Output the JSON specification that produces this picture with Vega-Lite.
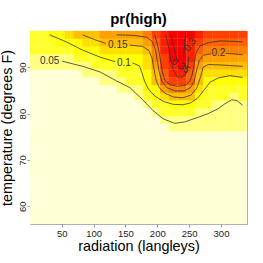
{
"$schema":"https://vega.github.io/schema/vega-lite/v6.json",
"width":217,"height":193,
"autosize":{"type":"none"},
"padding":{"left":30,"top":31,"right":16,"bottom":39},
"background":"white",
"config":{"view":{"stroke":"#a8a8a8","strokeWidth":1},"font":"Liberation Sans"},
"title":{"text":"pr(high)","fontSize":15,"fontWeight":"bold","font":"Liberation Sans","color":"black","baseline":"alphabetic","offset":-8,"frame":"group","anchor":"middle"},
"datasets":{
"cells":[
{"x":7,"y":57,"z":0},{"x":7,"y":58.67,"z":0},{"x":7,"y":60.33,"z":0},{"x":7,"y":62,"z":0},{"x":7,"y":63.67,"z":0},{"x":7,"y":65.33,"z":0},{"x":7,"y":67,"z":0},{"x":7,"y":68.67,"z":0},{"x":7,"y":70.33,"z":0},{"x":7,"y":72,"z":0},{"x":7,"y":73.67,"z":0},{"x":7,"y":75.33,"z":0},{"x":7,"y":77,"z":0},{"x":7,"y":78.67,"z":0},{"x":7,"y":80.33,"z":0},{"x":7,"y":82,"z":0},{"x":7,"y":83.67,"z":0},{"x":7,"y":85.33,"z":0.006},{"x":7,"y":87,"z":0.012},{"x":7,"y":88.67,"z":0.022},{"x":7,"y":90.33,"z":0.038},{"x":7,"y":92,"z":0.053},{"x":7,"y":93.67,"z":0.065},{"x":7,"y":95.33,"z":0.075},{"x":7,"y":97,"z":0.085},
{"x":20.63,"y":57,"z":0},{"x":20.63,"y":58.67,"z":0},{"x":20.63,"y":60.33,"z":0},{"x":20.63,"y":62,"z":0},{"x":20.63,"y":63.67,"z":0},{"x":20.63,"y":65.33,"z":0},{"x":20.63,"y":67,"z":0},{"x":20.63,"y":68.67,"z":0},{"x":20.63,"y":70.33,"z":0},{"x":20.63,"y":72,"z":0},{"x":20.63,"y":73.67,"z":0},{"x":20.63,"y":75.33,"z":0},{"x":20.63,"y":77,"z":0},{"x":20.63,"y":78.67,"z":0},{"x":20.63,"y":80.33,"z":0},{"x":20.63,"y":82,"z":0},{"x":20.63,"y":83.67,"z":0},{"x":20.63,"y":85.33,"z":0.006},{"x":20.63,"y":87,"z":0.012},{"x":20.63,"y":88.67,"z":0.023},{"x":20.63,"y":90.33,"z":0.039},{"x":20.63,"y":92,"z":0.054},{"x":20.63,"y":93.67,"z":0.068},{"x":20.63,"y":95.33,"z":0.08},{"x":20.63,"y":97,"z":0.092},
{"x":34.25,"y":57,"z":0},{"x":34.25,"y":58.67,"z":0},{"x":34.25,"y":60.33,"z":0},{"x":34.25,"y":62,"z":0},{"x":34.25,"y":63.67,"z":0},{"x":34.25,"y":65.33,"z":0},{"x":34.25,"y":67,"z":0},{"x":34.25,"y":68.67,"z":0},{"x":34.25,"y":70.33,"z":0},{"x":34.25,"y":72,"z":0},{"x":34.25,"y":73.67,"z":0},{"x":34.25,"y":75.33,"z":0},{"x":34.25,"y":77,"z":0},{"x":34.25,"y":78.67,"z":0},{"x":34.25,"y":80.33,"z":0},{"x":34.25,"y":82,"z":0},{"x":34.25,"y":83.67,"z":0},{"x":34.25,"y":85.33,"z":0.006},{"x":34.25,"y":87,"z":0.012},{"x":34.25,"y":88.67,"z":0.023},{"x":34.25,"y":90.33,"z":0.04},{"x":34.25,"y":92,"z":0.056},{"x":34.25,"y":93.67,"z":0.072},{"x":34.25,"y":95.33,"z":0.087},{"x":34.25,"y":97,"z":0.101},
{"x":47.88,"y":57,"z":0},{"x":47.88,"y":58.67,"z":0},{"x":47.88,"y":60.33,"z":0},{"x":47.88,"y":62,"z":0},{"x":47.88,"y":63.67,"z":0},{"x":47.88,"y":65.33,"z":0},{"x":47.88,"y":67,"z":0},{"x":47.88,"y":68.67,"z":0},{"x":47.88,"y":70.33,"z":0},{"x":47.88,"y":72,"z":0},{"x":47.88,"y":73.67,"z":0},{"x":47.88,"y":75.33,"z":0},{"x":47.88,"y":77,"z":0},{"x":47.88,"y":78.67,"z":0},{"x":47.88,"y":80.33,"z":0},{"x":47.88,"y":82,"z":0},{"x":47.88,"y":83.67,"z":0},{"x":47.88,"y":85.33,"z":0.006},{"x":47.88,"y":87,"z":0.013},{"x":47.88,"y":88.67,"z":0.024},{"x":47.88,"y":90.33,"z":0.041},{"x":47.88,"y":92,"z":0.058},{"x":47.88,"y":93.67,"z":0.077},{"x":47.88,"y":95.33,"z":0.095},{"x":47.88,"y":97,"z":0.11},
{"x":61.5,"y":57,"z":0},{"x":61.5,"y":58.67,"z":0},{"x":61.5,"y":60.33,"z":0},{"x":61.5,"y":62,"z":0},{"x":61.5,"y":63.67,"z":0},{"x":61.5,"y":65.33,"z":0},{"x":61.5,"y":67,"z":0},{"x":61.5,"y":68.67,"z":0},{"x":61.5,"y":70.33,"z":0},{"x":61.5,"y":72,"z":0},{"x":61.5,"y":73.67,"z":0},{"x":61.5,"y":75.33,"z":0},{"x":61.5,"y":77,"z":0},{"x":61.5,"y":78.67,"z":0},{"x":61.5,"y":80.33,"z":0},{"x":61.5,"y":82,"z":0},{"x":61.5,"y":83.67,"z":0},{"x":61.5,"y":85.33,"z":0.007},{"x":61.5,"y":87,"z":0.014},{"x":61.5,"y":88.67,"z":0.026},{"x":61.5,"y":90.33,"z":0.043},{"x":61.5,"y":92,"z":0.061},{"x":61.5,"y":93.67,"z":0.082},{"x":61.5,"y":95.33,"z":0.101},{"x":61.5,"y":97,"z":0.132},
{"x":75.13,"y":57,"z":0},{"x":75.13,"y":58.67,"z":0},{"x":75.13,"y":60.33,"z":0},{"x":75.13,"y":62,"z":0},{"x":75.13,"y":63.67,"z":0},{"x":75.13,"y":65.33,"z":0},{"x":75.13,"y":67,"z":0},{"x":75.13,"y":68.67,"z":0},{"x":75.13,"y":70.33,"z":0},{"x":75.13,"y":72,"z":0},{"x":75.13,"y":73.67,"z":0},{"x":75.13,"y":75.33,"z":0},{"x":75.13,"y":77,"z":0},{"x":75.13,"y":78.67,"z":0},{"x":75.13,"y":80.33,"z":0},{"x":75.13,"y":82,"z":0},{"x":75.13,"y":83.67,"z":0},{"x":75.13,"y":85.33,"z":0.008},{"x":75.13,"y":87,"z":0.015},{"x":75.13,"y":88.67,"z":0.028},{"x":75.13,"y":90.33,"z":0.048},{"x":75.13,"y":92,"z":0.07},{"x":75.13,"y":93.67,"z":0.093},{"x":75.13,"y":95.33,"z":0.12},{"x":75.13,"y":97,"z":0.16},
{"x":88.75,"y":57,"z":0},{"x":88.75,"y":58.67,"z":0},{"x":88.75,"y":60.33,"z":0},{"x":88.75,"y":62,"z":0},{"x":88.75,"y":63.67,"z":0},{"x":88.75,"y":65.33,"z":0},{"x":88.75,"y":67,"z":0},{"x":88.75,"y":68.67,"z":0},{"x":88.75,"y":70.33,"z":0},{"x":88.75,"y":72,"z":0},{"x":88.75,"y":73.67,"z":0},{"x":88.75,"y":75.33,"z":0},{"x":88.75,"y":77,"z":0},{"x":88.75,"y":78.67,"z":0},{"x":88.75,"y":80.33,"z":0},{"x":88.75,"y":82,"z":0},{"x":88.75,"y":83.67,"z":0},{"x":88.75,"y":85.33,"z":0.01},{"x":88.75,"y":87,"z":0.02},{"x":88.75,"y":88.67,"z":0.035},{"x":88.75,"y":90.33,"z":0.055},{"x":88.75,"y":92,"z":0.079},{"x":88.75,"y":93.67,"z":0.104},{"x":88.75,"y":95.33,"z":0.132},{"x":88.75,"y":97,"z":0.17},
{"x":102.38,"y":57,"z":0},{"x":102.38,"y":58.67,"z":0},{"x":102.38,"y":60.33,"z":0},{"x":102.38,"y":62,"z":0},{"x":102.38,"y":63.67,"z":0},{"x":102.38,"y":65.33,"z":0},{"x":102.38,"y":67,"z":0},{"x":102.38,"y":68.67,"z":0},{"x":102.38,"y":70.33,"z":0},{"x":102.38,"y":72,"z":0},{"x":102.38,"y":73.67,"z":0},{"x":102.38,"y":75.33,"z":0},{"x":102.38,"y":77,"z":0},{"x":102.38,"y":78.67,"z":0},{"x":102.38,"y":80.33,"z":0},{"x":102.38,"y":82,"z":0},{"x":102.38,"y":83.67,"z":0.006},{"x":102.38,"y":85.33,"z":0.013},{"x":102.38,"y":87,"z":0.025},{"x":102.38,"y":88.67,"z":0.043},{"x":102.38,"y":90.33,"z":0.065},{"x":102.38,"y":92,"z":0.091},{"x":102.38,"y":93.67,"z":0.116},{"x":102.38,"y":95.33,"z":0.145},{"x":102.38,"y":97,"z":0.18},
{"x":116,"y":57,"z":0},{"x":116,"y":58.67,"z":0},{"x":116,"y":60.33,"z":0},{"x":116,"y":62,"z":0},{"x":116,"y":63.67,"z":0},{"x":116,"y":65.33,"z":0},{"x":116,"y":67,"z":0},{"x":116,"y":68.67,"z":0},{"x":116,"y":70.33,"z":0},{"x":116,"y":72,"z":0},{"x":116,"y":73.67,"z":0},{"x":116,"y":75.33,"z":0},{"x":116,"y":77,"z":0},{"x":116,"y":78.67,"z":0},{"x":116,"y":80.33,"z":0},{"x":116,"y":82,"z":0},{"x":116,"y":83.67,"z":0.009},{"x":116,"y":85.33,"z":0.018},{"x":116,"y":87,"z":0.033},{"x":116,"y":88.67,"z":0.051},{"x":116,"y":90.33,"z":0.076},{"x":116,"y":92,"z":0.101},{"x":116,"y":93.67,"z":0.126},{"x":116,"y":95.33,"z":0.16},{"x":116,"y":97,"z":0.19},
{"x":129.63,"y":57,"z":0},{"x":129.63,"y":58.67,"z":0},{"x":129.63,"y":60.33,"z":0},{"x":129.63,"y":62,"z":0},{"x":129.63,"y":63.67,"z":0},{"x":129.63,"y":65.33,"z":0},{"x":129.63,"y":67,"z":0},{"x":129.63,"y":68.67,"z":0},{"x":129.63,"y":70.33,"z":0},{"x":129.63,"y":72,"z":0},{"x":129.63,"y":73.67,"z":0},{"x":129.63,"y":75.33,"z":0},{"x":129.63,"y":77,"z":0},{"x":129.63,"y":78.67,"z":0},{"x":129.63,"y":80.33,"z":0},{"x":129.63,"y":82,"z":0},{"x":129.63,"y":83.67,"z":0.011},{"x":129.63,"y":85.33,"z":0.022},{"x":129.63,"y":87,"z":0.04},{"x":129.63,"y":88.67,"z":0.061},{"x":129.63,"y":90.33,"z":0.086},{"x":129.63,"y":92,"z":0.109},{"x":129.63,"y":93.67,"z":0.132},{"x":129.63,"y":95.33,"z":0.165},{"x":129.63,"y":97,"z":0.195},
{"x":143.25,"y":57,"z":0},{"x":143.25,"y":58.67,"z":0},{"x":143.25,"y":60.33,"z":0},{"x":143.25,"y":62,"z":0},{"x":143.25,"y":63.67,"z":0},{"x":143.25,"y":65.33,"z":0},{"x":143.25,"y":67,"z":0},{"x":143.25,"y":68.67,"z":0},{"x":143.25,"y":70.33,"z":0},{"x":143.25,"y":72,"z":0},{"x":143.25,"y":73.67,"z":0},{"x":143.25,"y":75.33,"z":0},{"x":143.25,"y":77,"z":0},{"x":143.25,"y":78.67,"z":0},{"x":143.25,"y":80.33,"z":0},{"x":143.25,"y":82,"z":0.01},{"x":143.25,"y":83.67,"z":0.02},{"x":143.25,"y":85.33,"z":0.036},{"x":143.25,"y":87,"z":0.053},{"x":143.25,"y":88.67,"z":0.073},{"x":143.25,"y":90.33,"z":0.092},{"x":143.25,"y":92,"z":0.113},{"x":143.25,"y":93.67,"z":0.135},{"x":143.25,"y":95.33,"z":0.168},{"x":143.25,"y":97,"z":0.205},
{"x":156.88,"y":57,"z":0},{"x":156.88,"y":58.67,"z":0},{"x":156.88,"y":60.33,"z":0},{"x":156.88,"y":62,"z":0},{"x":156.88,"y":63.67,"z":0},{"x":156.88,"y":65.33,"z":0},{"x":156.88,"y":67,"z":0},{"x":156.88,"y":68.67,"z":0},{"x":156.88,"y":70.33,"z":0},{"x":156.88,"y":72,"z":0},{"x":156.88,"y":73.67,"z":0},{"x":156.88,"y":75.33,"z":0},{"x":156.88,"y":77,"z":0},{"x":156.88,"y":78.67,"z":0},{"x":156.88,"y":80.33,"z":0.007},{"x":156.88,"y":82,"z":0.015},{"x":156.88,"y":83.67,"z":0.03},{"x":156.88,"y":85.33,"z":0.048},{"x":156.88,"y":87,"z":0.063},{"x":156.88,"y":88.67,"z":0.079},{"x":156.88,"y":90.33,"z":0.094},{"x":156.88,"y":92,"z":0.114},{"x":156.88,"y":93.67,"z":0.135},{"x":156.88,"y":95.33,"z":0.168},{"x":156.88,"y":97,"z":0.208},
{"x":170.5,"y":57,"z":0},{"x":170.5,"y":58.67,"z":0},{"x":170.5,"y":60.33,"z":0},{"x":170.5,"y":62,"z":0},{"x":170.5,"y":63.67,"z":0},{"x":170.5,"y":65.33,"z":0},{"x":170.5,"y":67,"z":0},{"x":170.5,"y":68.67,"z":0},{"x":170.5,"y":70.33,"z":0},{"x":170.5,"y":72,"z":0},{"x":170.5,"y":73.67,"z":0},{"x":170.5,"y":75.33,"z":0},{"x":170.5,"y":77,"z":0},{"x":170.5,"y":78.67,"z":0.007},{"x":170.5,"y":80.33,"z":0.014},{"x":170.5,"y":82,"z":0.028},{"x":170.5,"y":83.67,"z":0.045},{"x":170.5,"y":85.33,"z":0.059},{"x":170.5,"y":87,"z":0.073},{"x":170.5,"y":88.67,"z":0.086},{"x":170.5,"y":90.33,"z":0.099},{"x":170.5,"y":92,"z":0.119},{"x":170.5,"y":93.67,"z":0.139},{"x":170.5,"y":95.33,"z":0.172},{"x":170.5,"y":97,"z":0.212},
{"x":184.13,"y":57,"z":0},{"x":184.13,"y":58.67,"z":0},{"x":184.13,"y":60.33,"z":0},{"x":184.13,"y":62,"z":0},{"x":184.13,"y":63.67,"z":0},{"x":184.13,"y":65.33,"z":0},{"x":184.13,"y":67,"z":0},{"x":184.13,"y":68.67,"z":0},{"x":184.13,"y":70.33,"z":0},{"x":184.13,"y":72,"z":0},{"x":184.13,"y":73.67,"z":0},{"x":184.13,"y":75.33,"z":0},{"x":184.13,"y":77,"z":0.008},{"x":184.13,"y":78.67,"z":0.015},{"x":184.13,"y":80.33,"z":0.028},{"x":184.13,"y":82,"z":0.045},{"x":184.13,"y":83.67,"z":0.074},{"x":184.13,"y":85.33,"z":0.093},{"x":184.13,"y":87,"z":0.107},{"x":184.13,"y":88.67,"z":0.118},{"x":184.13,"y":90.33,"z":0.135},{"x":184.13,"y":92,"z":0.15},{"x":184.13,"y":93.67,"z":0.17},{"x":184.13,"y":95.33,"z":0.2},{"x":184.13,"y":97,"z":0.23},
{"x":197.75,"y":57,"z":0},{"x":197.75,"y":58.67,"z":0},{"x":197.75,"y":60.33,"z":0},{"x":197.75,"y":62,"z":0},{"x":197.75,"y":63.67,"z":0},{"x":197.75,"y":65.33,"z":0},{"x":197.75,"y":67,"z":0},{"x":197.75,"y":68.67,"z":0},{"x":197.75,"y":70.33,"z":0},{"x":197.75,"y":72,"z":0},{"x":197.75,"y":73.67,"z":0},{"x":197.75,"y":75.33,"z":0.008},{"x":197.75,"y":77,"z":0.016},{"x":197.75,"y":78.67,"z":0.028},{"x":197.75,"y":80.33,"z":0.045},{"x":197.75,"y":82,"z":0.071},{"x":197.75,"y":83.67,"z":0.1},{"x":197.75,"y":85.33,"z":0.122},{"x":197.75,"y":87,"z":0.155},{"x":197.75,"y":88.67,"z":0.18},{"x":197.75,"y":90.33,"z":0.2},{"x":197.75,"y":92,"z":0.22},{"x":197.75,"y":93.67,"z":0.245},{"x":197.75,"y":95.33,"z":0.27},{"x":197.75,"y":97,"z":0.29},
{"x":211.38,"y":57,"z":0},{"x":211.38,"y":58.67,"z":0},{"x":211.38,"y":60.33,"z":0},{"x":211.38,"y":62,"z":0},{"x":211.38,"y":63.67,"z":0},{"x":211.38,"y":65.33,"z":0},{"x":211.38,"y":67,"z":0},{"x":211.38,"y":68.67,"z":0},{"x":211.38,"y":70.33,"z":0},{"x":211.38,"y":72,"z":0},{"x":211.38,"y":73.67,"z":0.009},{"x":211.38,"y":75.33,"z":0.018},{"x":211.38,"y":77,"z":0.03},{"x":211.38,"y":78.67,"z":0.045},{"x":211.38,"y":80.33,"z":0.068},{"x":211.38,"y":82,"z":0.092},{"x":211.38,"y":83.67,"z":0.14},{"x":211.38,"y":85.33,"z":0.2},{"x":211.38,"y":87,"z":0.25},{"x":211.38,"y":88.67,"z":0.275},{"x":211.38,"y":90.33,"z":0.29},{"x":211.38,"y":92,"z":0.3},{"x":211.38,"y":93.67,"z":0.31},{"x":211.38,"y":95.33,"z":0.315},{"x":211.38,"y":97,"z":0.32},
{"x":225,"y":57,"z":0},{"x":225,"y":58.67,"z":0},{"x":225,"y":60.33,"z":0},{"x":225,"y":62,"z":0},{"x":225,"y":63.67,"z":0},{"x":225,"y":65.33,"z":0},{"x":225,"y":67,"z":0},{"x":225,"y":68.67,"z":0},{"x":225,"y":70.33,"z":0},{"x":225,"y":72,"z":0.007},{"x":225,"y":73.67,"z":0.014},{"x":225,"y":75.33,"z":0.024},{"x":225,"y":77,"z":0.038},{"x":225,"y":78.67,"z":0.058},{"x":225,"y":80.33,"z":0.079},{"x":225,"y":82,"z":0.1},{"x":225,"y":83.67,"z":0.17},{"x":225,"y":85.33,"z":0.245},{"x":225,"y":87,"z":0.285},{"x":225,"y":88.67,"z":0.31},{"x":225,"y":90.33,"z":0.33},{"x":225,"y":92,"z":0.345},{"x":225,"y":93.67,"z":0.355},{"x":225,"y":95.33,"z":0.36},{"x":225,"y":97,"z":0.365},
{"x":238.63,"y":57,"z":0},{"x":238.63,"y":58.67,"z":0},{"x":238.63,"y":60.33,"z":0},{"x":238.63,"y":62,"z":0},{"x":238.63,"y":63.67,"z":0},{"x":238.63,"y":65.33,"z":0},{"x":238.63,"y":67,"z":0},{"x":238.63,"y":68.67,"z":0},{"x":238.63,"y":70.33,"z":0},{"x":238.63,"y":72,"z":0.007},{"x":238.63,"y":73.67,"z":0.014},{"x":238.63,"y":75.33,"z":0.024},{"x":238.63,"y":77,"z":0.037},{"x":238.63,"y":78.67,"z":0.057},{"x":238.63,"y":80.33,"z":0.079},{"x":238.63,"y":82,"z":0.11},{"x":238.63,"y":83.67,"z":0.175},{"x":238.63,"y":85.33,"z":0.245},{"x":238.63,"y":87,"z":0.3},{"x":238.63,"y":88.67,"z":0.335},{"x":238.63,"y":90.33,"z":0.35},{"x":238.63,"y":92,"z":0.358},{"x":238.63,"y":93.67,"z":0.362},{"x":238.63,"y":95.33,"z":0.366},{"x":238.63,"y":97,"z":0.37},
{"x":252.25,"y":57,"z":0},{"x":252.25,"y":58.67,"z":0},{"x":252.25,"y":60.33,"z":0},{"x":252.25,"y":62,"z":0},{"x":252.25,"y":63.67,"z":0},{"x":252.25,"y":65.33,"z":0},{"x":252.25,"y":67,"z":0},{"x":252.25,"y":68.67,"z":0},{"x":252.25,"y":70.33,"z":0},{"x":252.25,"y":72,"z":0.008},{"x":252.25,"y":73.67,"z":0.015},{"x":252.25,"y":75.33,"z":0.025},{"x":252.25,"y":77,"z":0.037},{"x":252.25,"y":78.67,"z":0.049},{"x":252.25,"y":80.33,"z":0.071},{"x":252.25,"y":82,"z":0.096},{"x":252.25,"y":83.67,"z":0.155},{"x":252.25,"y":85.33,"z":0.21},{"x":252.25,"y":87,"z":0.25},{"x":252.25,"y":88.67,"z":0.27},{"x":252.25,"y":90.33,"z":0.29},{"x":252.25,"y":92,"z":0.31},{"x":252.25,"y":93.67,"z":0.325},{"x":252.25,"y":95.33,"z":0.34},{"x":252.25,"y":97,"z":0.345},
{"x":265.88,"y":57,"z":0},{"x":265.88,"y":58.67,"z":0},{"x":265.88,"y":60.33,"z":0},{"x":265.88,"y":62,"z":0},{"x":265.88,"y":63.67,"z":0},{"x":265.88,"y":65.33,"z":0},{"x":265.88,"y":67,"z":0},{"x":265.88,"y":68.67,"z":0},{"x":265.88,"y":70.33,"z":0},{"x":265.88,"y":72,"z":0.008},{"x":265.88,"y":73.67,"z":0.015},{"x":265.88,"y":75.33,"z":0.024},{"x":265.88,"y":77,"z":0.034},{"x":265.88,"y":78.67,"z":0.045},{"x":265.88,"y":80.33,"z":0.061},{"x":265.88,"y":82,"z":0.08},{"x":265.88,"y":83.67,"z":0.105},{"x":265.88,"y":85.33,"z":0.13},{"x":265.88,"y":87,"z":0.155},{"x":265.88,"y":88.67,"z":0.18},{"x":265.88,"y":90.33,"z":0.205},{"x":265.88,"y":92,"z":0.235},{"x":265.88,"y":93.67,"z":0.265},{"x":265.88,"y":95.33,"z":0.29},{"x":265.88,"y":97,"z":0.31},
{"x":279.5,"y":57,"z":0},{"x":279.5,"y":58.67,"z":0},{"x":279.5,"y":60.33,"z":0},{"x":279.5,"y":62,"z":0},{"x":279.5,"y":63.67,"z":0},{"x":279.5,"y":65.33,"z":0},{"x":279.5,"y":67,"z":0},{"x":279.5,"y":68.67,"z":0},{"x":279.5,"y":70.33,"z":0},{"x":279.5,"y":72,"z":0.008},{"x":279.5,"y":73.67,"z":0.015},{"x":279.5,"y":75.33,"z":0.024},{"x":279.5,"y":77,"z":0.033},{"x":279.5,"y":78.67,"z":0.042},{"x":279.5,"y":80.33,"z":0.053},{"x":279.5,"y":82,"z":0.066},{"x":279.5,"y":83.67,"z":0.08},{"x":279.5,"y":85.33,"z":0.092},{"x":279.5,"y":87,"z":0.1},{"x":279.5,"y":88.67,"z":0.13},{"x":279.5,"y":90.33,"z":0.16},{"x":279.5,"y":92,"z":0.195},{"x":279.5,"y":93.67,"z":0.228},{"x":279.5,"y":95.33,"z":0.262},{"x":279.5,"y":97,"z":0.29},
{"x":293.13,"y":57,"z":0},{"x":293.13,"y":58.67,"z":0},{"x":293.13,"y":60.33,"z":0},{"x":293.13,"y":62,"z":0},{"x":293.13,"y":63.67,"z":0},{"x":293.13,"y":65.33,"z":0},{"x":293.13,"y":67,"z":0},{"x":293.13,"y":68.67,"z":0},{"x":293.13,"y":70.33,"z":0},{"x":293.13,"y":72,"z":0.008},{"x":293.13,"y":73.67,"z":0.015},{"x":293.13,"y":75.33,"z":0.024},{"x":293.13,"y":77,"z":0.032},{"x":293.13,"y":78.67,"z":0.038},{"x":293.13,"y":80.33,"z":0.046},{"x":293.13,"y":82,"z":0.058},{"x":293.13,"y":83.67,"z":0.071},{"x":293.13,"y":85.33,"z":0.083},{"x":293.13,"y":87,"z":0.1},{"x":293.13,"y":88.67,"z":0.128},{"x":293.13,"y":90.33,"z":0.16},{"x":293.13,"y":92,"z":0.195},{"x":293.13,"y":93.67,"z":0.225},{"x":293.13,"y":95.33,"z":0.258},{"x":293.13,"y":97,"z":0.287},
{"x":306.75,"y":57,"z":0},{"x":306.75,"y":58.67,"z":0},{"x":306.75,"y":60.33,"z":0},{"x":306.75,"y":62,"z":0},{"x":306.75,"y":63.67,"z":0},{"x":306.75,"y":65.33,"z":0},{"x":306.75,"y":67,"z":0},{"x":306.75,"y":68.67,"z":0},{"x":306.75,"y":70.33,"z":0},{"x":306.75,"y":72,"z":0.008},{"x":306.75,"y":73.67,"z":0.016},{"x":306.75,"y":75.33,"z":0.025},{"x":306.75,"y":77,"z":0.032},{"x":306.75,"y":78.67,"z":0.036},{"x":306.75,"y":80.33,"z":0.042},{"x":306.75,"y":82,"z":0.049},{"x":306.75,"y":83.67,"z":0.063},{"x":306.75,"y":85.33,"z":0.077},{"x":306.75,"y":87,"z":0.1},{"x":306.75,"y":88.67,"z":0.128},{"x":306.75,"y":90.33,"z":0.16},{"x":306.75,"y":92,"z":0.195},{"x":306.75,"y":93.67,"z":0.225},{"x":306.75,"y":95.33,"z":0.256},{"x":306.75,"y":97,"z":0.285},
{"x":320.38,"y":57,"z":0},{"x":320.38,"y":58.67,"z":0},{"x":320.38,"y":60.33,"z":0},{"x":320.38,"y":62,"z":0},{"x":320.38,"y":63.67,"z":0},{"x":320.38,"y":65.33,"z":0},{"x":320.38,"y":67,"z":0},{"x":320.38,"y":68.67,"z":0},{"x":320.38,"y":70.33,"z":0},{"x":320.38,"y":72,"z":0.008},{"x":320.38,"y":73.67,"z":0.016},{"x":320.38,"y":75.33,"z":0.025},{"x":320.38,"y":77,"z":0.032},{"x":320.38,"y":78.67,"z":0.036},{"x":320.38,"y":80.33,"z":0.04},{"x":320.38,"y":82,"z":0.046},{"x":320.38,"y":83.67,"z":0.056},{"x":320.38,"y":85.33,"z":0.073},{"x":320.38,"y":87,"z":0.098},{"x":320.38,"y":88.67,"z":0.127},{"x":320.38,"y":90.33,"z":0.16},{"x":320.38,"y":92,"z":0.194},{"x":320.38,"y":93.67,"z":0.226},{"x":320.38,"y":95.33,"z":0.256},{"x":320.38,"y":97,"z":0.284},
{"x":334,"y":57,"z":0},{"x":334,"y":58.67,"z":0},{"x":334,"y":60.33,"z":0},{"x":334,"y":62,"z":0},{"x":334,"y":63.67,"z":0},{"x":334,"y":65.33,"z":0},{"x":334,"y":67,"z":0},{"x":334,"y":68.67,"z":0},{"x":334,"y":70.33,"z":0},{"x":334,"y":72,"z":0.009},{"x":334,"y":73.67,"z":0.017},{"x":334,"y":75.33,"z":0.026},{"x":334,"y":77,"z":0.033},{"x":334,"y":78.67,"z":0.038},{"x":334,"y":80.33,"z":0.044},{"x":334,"y":82,"z":0.052},{"x":334,"y":83.67,"z":0.066},{"x":334,"y":85.33,"z":0.079},{"x":334,"y":87,"z":0.1},{"x":334,"y":88.67,"z":0.128},{"x":334,"y":90.33,"z":0.161},{"x":334,"y":92,"z":0.196},{"x":334,"y":93.67,"z":0.227},{"x":334,"y":95.33,"z":0.257},{"x":334,"y":97,"z":0.285}
],
"contours":[
{"seg":"c05","i":0,"x":51,"y":91.3},{"seg":"c05","i":1,"x":83,"y":90.2},{"seg":"c05","i":2,"x":110,"y":89.0},{"seg":"c05","i":3,"x":134,"y":87.2},{"seg":"c05","i":4,"x":157,"y":85.6},{"seg":"c05","i":5,"x":177,"y":83.0},{"seg":"c05","i":6,"x":193,"y":80.7},{"seg":"c05","i":7,"x":209,"y":78.9},{"seg":"c05","i":8,"x":227,"y":77.9},{"seg":"c05","i":9,"x":243,"y":78.2},{"seg":"c05","i":10,"x":264,"y":79.2},{"seg":"c05","i":11,"x":280,"y":80.0},{"seg":"c05","i":12,"x":296,"y":81.1},{"seg":"c05","i":13,"x":306,"y":82.1},{"seg":"c05","i":14,"x":317,"y":83.0},{"seg":"c05","i":15,"x":325,"y":82.8},{"seg":"c05","i":16,"x":334,"y":81.8},
{"seg":"c10a","i":0,"x":31,"y":97},{"seg":"c10a","i":1,"x":57,"y":95.5},{"seg":"c10a","i":2,"x":83,"y":93.7},{"seg":"c10a","i":3,"x":110,"y":92.2},{"seg":"c10a","i":4,"x":134,"y":91.2},
{"seg":"c10b","i":0,"x":161,"y":90.95},{"seg":"c10b","i":1,"x":172,"y":90.3},{"seg":"c10b","i":2,"x":176,"y":88.8},{"seg":"c10b","i":3,"x":180,"y":87.0},{"seg":"c10b","i":4,"x":186,"y":85.3},{"seg":"c10b","i":5,"x":196,"y":83.8},{"seg":"c10b","i":6,"x":210,"y":82.6},{"seg":"c10b","i":7,"x":225,"y":82.0},{"seg":"c10b","i":8,"x":240,"y":81.9},{"seg":"c10b","i":9,"x":252,"y":82.3},{"seg":"c10b","i":10,"x":263,"y":83.3},{"seg":"c10b","i":11,"x":273,"y":85.0},{"seg":"c10b","i":12,"x":283,"y":86.8},{"seg":"c10b","i":13,"x":296,"y":87.7},{"seg":"c10b","i":14,"x":314,"y":88.2},{"seg":"c10b","i":15,"x":334,"y":87.8},
{"seg":"c15a","i":0,"x":83,"y":97},{"seg":"c15a","i":1,"x":101,"y":96.0},{"seg":"c15a","i":2,"x":119,"y":95.15},
{"seg":"c15b","i":0,"x":157,"y":94.8},{"seg":"c15b","i":1,"x":177,"y":94.5},{"seg":"c15b","i":2,"x":187,"y":93.6},{"seg":"c15b","i":3,"x":192,"y":91.8},{"seg":"c15b","i":4,"x":195,"y":89.5},{"seg":"c15b","i":5,"x":198,"y":87.3},{"seg":"c15b","i":6,"x":203,"y":85.6},{"seg":"c15b","i":7,"x":212,"y":84.4},{"seg":"c15b","i":8,"x":225,"y":83.6},{"seg":"c15b","i":9,"x":240,"y":83.4},{"seg":"c15b","i":10,"x":253,"y":84.0},{"seg":"c15b","i":11,"x":262,"y":85.5},{"seg":"c15b","i":12,"x":268,"y":88.0},{"seg":"c15b","i":13,"x":272,"y":90.0},{"seg":"c15b","i":14,"x":280,"y":90.6},{"seg":"c15b","i":15,"x":300,"y":90.5},{"seg":"c15b","i":16,"x":334,"y":90.2},
{"seg":"c20a","i":0,"x":136,"y":97},{"seg":"c20a","i":1,"x":162,"y":96.9},{"seg":"c20a","i":2,"x":183,"y":96.5},{"seg":"c20a","i":3,"x":192,"y":95.6},{"seg":"c20a","i":4,"x":197,"y":93.8},{"seg":"c20a","i":5,"x":200,"y":91.5},{"seg":"c20a","i":6,"x":203,"y":89.0},{"seg":"c20a","i":7,"x":207,"y":87.0},{"seg":"c20a","i":8,"x":215,"y":85.6},{"seg":"c20a","i":9,"x":228,"y":84.9},{"seg":"c20a","i":10,"x":242,"y":84.9},{"seg":"c20a","i":11,"x":252,"y":85.6},{"seg":"c20a","i":12,"x":258,"y":87.0},{"seg":"c20a","i":13,"x":262,"y":89.5},{"seg":"c20a","i":14,"x":266,"y":91.5},{"seg":"c20a","i":15,"x":272,"y":92.6},{"seg":"c20a","i":16,"x":284,"y":92.9},
{"seg":"c20b","i":0,"x":308,"y":93.0},{"seg":"c20b","i":1,"x":320,"y":92.9},{"seg":"c20b","i":2,"x":334,"y":92.7},
{"seg":"c25","i":0,"x":196,"y":97},{"seg":"c25","i":1,"x":201,"y":94.5},{"seg":"c25","i":2,"x":205,"y":91.5},{"seg":"c25","i":3,"x":208,"y":89.0},{"seg":"c25","i":4,"x":212,"y":87.2},{"seg":"c25","i":5,"x":220,"y":86.2},{"seg":"c25","i":6,"x":232,"y":85.9},{"seg":"c25","i":7,"x":244,"y":86.1},{"seg":"c25","i":8,"x":251,"y":87.0},{"seg":"c25","i":9,"x":255,"y":88.5},{"seg":"c25","i":10,"x":258,"y":91.0},{"seg":"c25","i":11,"x":261,"y":93.2},{"seg":"c25","i":12,"x":267,"y":94.6},{"seg":"c25","i":13,"x":280,"y":95.3},{"seg":"c25","i":14,"x":300,"y":95.7},{"seg":"c25","i":15,"x":334,"y":95.5},
{"seg":"c30","i":0,"x":213,"y":97},{"seg":"c30","i":1,"x":217,"y":94.8},{"seg":"c30","i":2,"x":221,"y":92.0},{"seg":"c30","i":3,"x":225,"y":89.5},{"seg":"c30","i":4,"x":231,"y":88.0},{"seg":"c30","i":5,"x":239,"y":87.8},{"seg":"c30","i":6,"x":245,"y":88.6},{"seg":"c30","i":7,"x":248,"y":90.3},{"seg":"c30","i":8,"x":249.5,"y":92.3},
{"seg":"c35a","i":0,"x":221,"y":97},{"seg":"c35a","i":1,"x":225,"y":95.0},{"seg":"c35a","i":2,"x":229,"y":92.5},{"seg":"c35a","i":3,"x":231.5,"y":91.2},
{"seg":"c35b","i":0,"x":241,"y":91.3},{"seg":"c35b","i":1,"x":242,"y":93.5},{"seg":"c35b","i":2,"x":244,"y":97}
],
"labels":[
{"label":"0.05","x":31,"y":91.45},{"label":"0.1","x":147.5,"y":91.0},{"label":"0.15","x":138,"y":94.85},{"label":"0.2","x":296,"y":93.1},{"label":"0.3","x":251.5,"y":94.9},{"label":"0.35","x":236.5,"y":90.3}
]
},
"layer":[
{"data":{"name":"cells"},
"mark":{"type":"rect","width":8.9,"height":7.95},
"encoding":{
"x":{"field":"x","type":"quantitative","scale":{"domain":[0.1875,340.8125],"nice":false,"zero":false},
"axis":{"values":[50,100,150,200,250,300],"title":"radiation (langleys)","grid":false,"domain":false,"tickSize":3,"tickColor":"#999999","labelFontSize":9.5,"labelColor":"#222222","labelPadding":1,"titleFontSize":14.4,"titleFontWeight":"normal","titleColor":"black","titleBaseline":"alphabetic","titleAlign":"center","titleX":108.5,"titleY":26.5}},
"y":{"field":"y","type":"quantitative","scale":{"domain":[56.1667,97.8333],"nice":false,"zero":false},
"axis":{"values":[60,70,80,90],"title":"temperature (degrees F)","grid":false,"domain":false,"tickSize":3,"tickColor":"#999999","labelAngle":270,"labelAlign":"center","labelBaseline":"alphabetic","labelPadding":2,"labelFontSize":9.5,"labelColor":"#222222","titleFontSize":14.4,"titleFontWeight":"normal","titleColor":"black","titleAngle":270,"titleAlign":"center","titleBaseline":"alphabetic","titleX":-18.5,"titleY":96.5}},
"color":{"field":"z","type":"quantitative","scale":{"type":"threshold","domain":[0.031,0.062,0.093,0.124,0.155,0.186,0.217,0.248,0.279,0.31,0.341],"range":["#FFFFD5","#FFFF80","#FFFF2A","#FFFF00","#FFDF00","#FFBF00","#FF9F00","#FF8000","#FF6000","#FF4000","#FF2000","#FF0000"]},"legend":null}
}},
{"data":{"name":"contours"},
"mark":{"type":"line","color":"#333333","strokeWidth":0.8},
"encoding":{"x":{"field":"x","type":"quantitative"},"y":{"field":"y","type":"quantitative"},"detail":{"field":"seg"},"order":{"field":"i"}}},
{"data":{"name":"labels"},"transform":[{"filter":"datum.label != '0.3' && datum.label != '0.35'"}],
"mark":{"type":"text","fontSize":10,"color":"#333333","align":"center","baseline":"middle"},
"encoding":{"x":{"field":"x","type":"quantitative"},"y":{"field":"y","type":"quantitative"},"text":{"field":"label"}}},
{"data":{"name":"labels"},"transform":[{"filter":"datum.label == '0.3'"}],
"mark":{"type":"text","fontSize":10,"color":"#333333","align":"center","baseline":"middle","angle":-55},
"encoding":{"x":{"field":"x","type":"quantitative"},"y":{"field":"y","type":"quantitative"},"text":{"field":"label"}}},
{"data":{"name":"labels"},"transform":[{"filter":"datum.label == '0.35'"}],
"mark":{"type":"text","fontSize":10,"color":"#333333","align":"center","baseline":"middle","angle":35},
"encoding":{"x":{"field":"x","type":"quantitative"},"y":{"field":"y","type":"quantitative"},"text":{"field":"label"}}}
]
}
